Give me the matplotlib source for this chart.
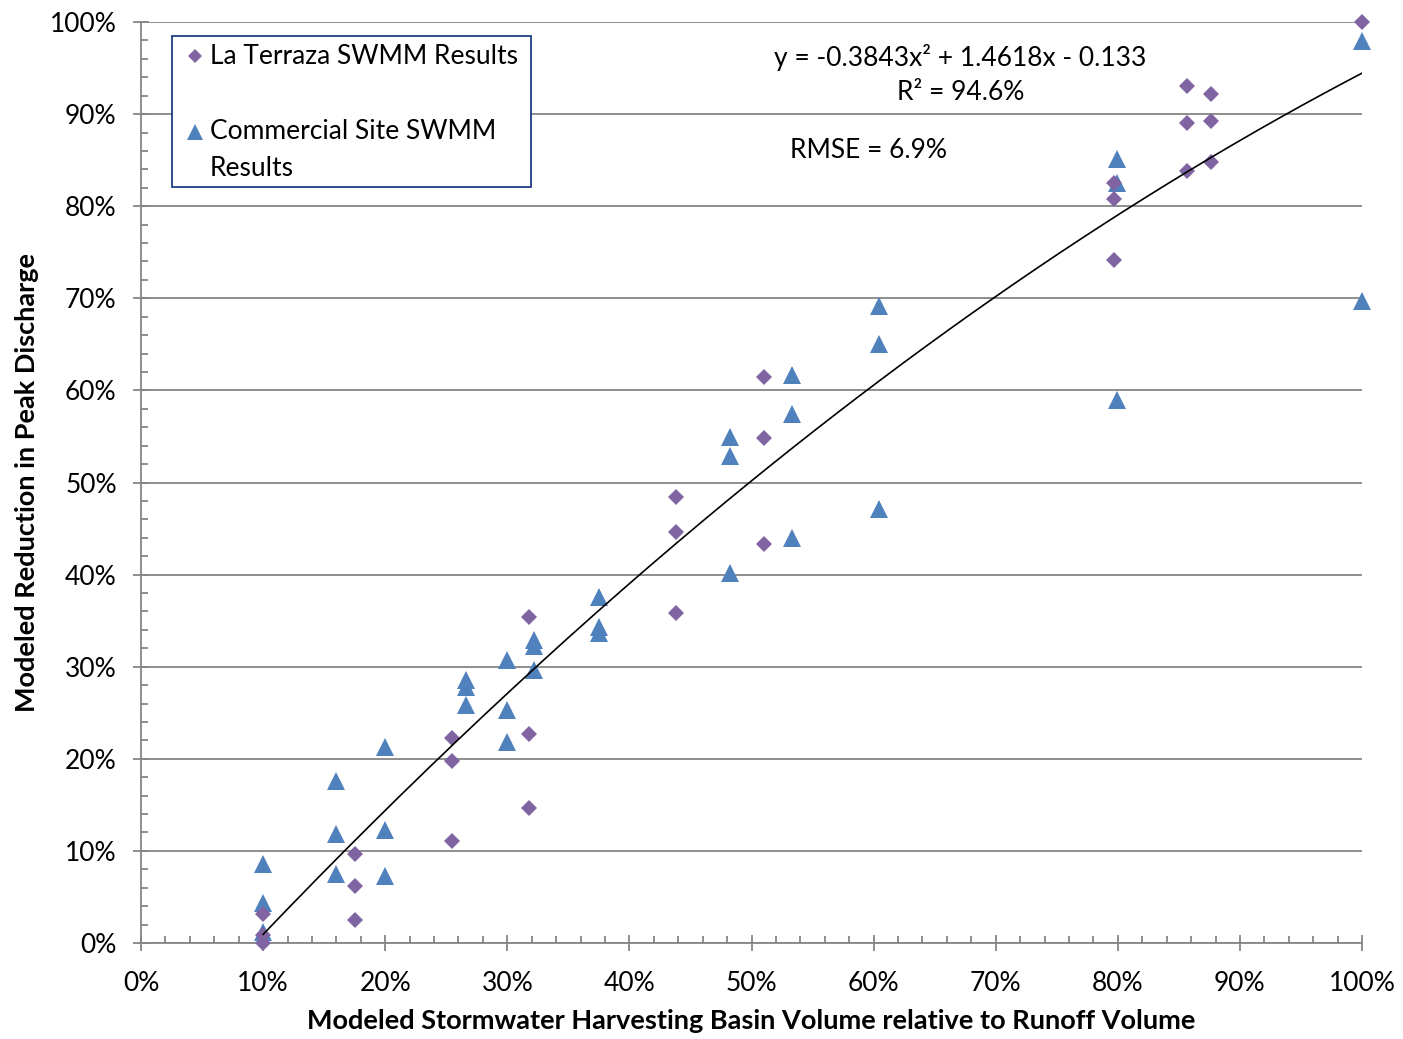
import matplotlib
matplotlib.use("Agg")
import matplotlib.pyplot as plt
import numpy as np
from matplotlib.ticker import PercentFormatter, MultipleLocator
from matplotlib.patches import Rectangle

plt.rcParams['font.family'] = ['Lato', 'DejaVu Sans']

# La Terraza SWMM results (basin volume ratio, peak reduction)
terraza_x = [0.10, 0.10, 0.10, 0.175, 0.175, 0.175, 0.255, 0.255, 0.255,
             0.318, 0.318, 0.318, 0.438, 0.438, 0.438, 0.51, 0.51, 0.51,
             0.797, 0.797, 0.797, 0.857, 0.857, 0.857, 0.876, 0.876, 0.876, 1.0]
terraza_y = [0.0, 0.009, 0.031, 0.097, 0.062, 0.025, 0.223, 0.198, 0.111,
             0.354, 0.227, 0.147, 0.484, 0.446, 0.358, 0.615, 0.548, 0.433,
             0.825, 0.808, 0.742, 0.931, 0.890, 0.838, 0.922, 0.893, 0.848, 1.0]

# Commercial site SWMM results
commercial_x = [0.10, 0.10, 0.10, 0.16, 0.16, 0.16, 0.20, 0.20, 0.20,
                0.266, 0.266, 0.266, 0.30, 0.30, 0.30, 0.322, 0.322, 0.322,
                0.375, 0.375, 0.375, 0.482, 0.482, 0.482, 0.533, 0.533, 0.533,
                0.604, 0.604, 0.604, 0.799, 0.799, 0.799, 1.0, 1.0]
commercial_y = [0.086, 0.043, 0.012, 0.176, 0.118, 0.075, 0.213, 0.123, 0.073,
                0.286, 0.278, 0.258, 0.307, 0.253, 0.218, 0.329, 0.322, 0.296,
                0.376, 0.343, 0.337, 0.549, 0.529, 0.402, 0.617, 0.574, 0.440,
                0.692, 0.650, 0.471, 0.851, 0.825, 0.590, 0.979, 0.697]

# polynomial trendline coefficients shown on the chart
trend_coef = [-0.3843, 1.4618, -0.133]
trend_range = [0.10, 1.0]

series_labels = ['La Terraza SWMM Results', 'Commercial Site SWMM', 'Results']

purple = '#8064A2'
blue = '#4F81BD'
fs = 19

fig = plt.figure(figsize=(14.03, 10.39), dpi=100)
ax = fig.add_axes([0.1005, 0.0924, 0.8703, 0.8864])

ax.plot(commercial_x, commercial_y, linestyle='none', marker='^',
        markersize=12.5, color=blue, markeredgewidth=0, zorder=3,
        clip_on=False)
ax.plot(terraza_x, terraza_y, linestyle='none', marker='D',
        markersize=8.4, color=purple, markeredgewidth=0, zorder=4,
        clip_on=False)

xt = np.linspace(trend_range[0], trend_range[1], 200)
ax.plot(xt, np.polyval(trend_coef, xt), color='black', linewidth=1.2, zorder=5)

ax.set_xlim(0, 1)
ax.set_ylim(0, 1)
ax.xaxis.set_major_locator(MultipleLocator(0.1))
ax.yaxis.set_major_locator(MultipleLocator(0.1))
ax.xaxis.set_minor_locator(MultipleLocator(0.02))
ax.yaxis.set_minor_locator(MultipleLocator(0.02))
ax.xaxis.set_major_formatter(PercentFormatter(1.0, decimals=0))
ax.yaxis.set_major_formatter(PercentFormatter(1.0, decimals=0))

axis_color = '#868686'
ax.grid(axis='y', which='major', color=axis_color, linewidth=1.3)
ax.set_axisbelow(True)
for s in ['top', 'right']:
    ax.spines[s].set_visible(False)
for s in ['left', 'bottom']:
    ax.spines[s].set_color(axis_color)
    ax.spines[s].set_linewidth(1.3)
ax.tick_params(which='major', direction='inout', length=11, width=1.3,
               color=axis_color, labelsize=fs, pad=12)
ax.tick_params(axis='x', which='major', pad=15)
ax.tick_params(which='minor', direction='in', length=5, width=1.3,
               color=axis_color)

ax.set_xlabel('Modeled Stormwater Harvesting Basin Volume relative to Runoff Volume',
              fontsize=19.5, fontweight='bold', labelpad=9)
ax.set_ylabel('Modeled Reduction in Peak Discharge',
              fontsize=19.5, fontweight='bold', labelpad=8)

ax.text(0.671, 0.962, 'y = -0.3843x² + 1.4618x - 0.133', fontsize=fs,
        ha='center', va='center')
ax.text(0.671, 0.923, 'R² = 94.6%', fontsize=fs, ha='center', va='center')
ax.text(0.596, 0.861, 'RMSE = 6.9%', fontsize=fs, ha='center', va='center')

# legend box drawn by hand to keep the Excel-like wrapped entry
ax.add_patch(Rectangle((0.0254, 0.8208), 0.294, 0.164, transform=ax.transAxes,
                       facecolor='white', edgecolor='#1F3F7F', linewidth=1.3,
                       zorder=6))
ax.plot([0.0442], [0.9631], transform=ax.transAxes, linestyle='none',
        marker='D', markersize=7.5, color=purple, markeredgewidth=0, zorder=7)
ax.plot([0.0442], [0.8806], transform=ax.transAxes, linestyle='none',
        marker='^', markersize=12, color=blue, markeredgewidth=0, zorder=7)
ax.text(0.0565, 0.9631, series_labels[0], transform=ax.transAxes,
        fontsize=fs, va='center', ha='left', zorder=7)
ax.text(0.0565, 0.8806, series_labels[1], transform=ax.transAxes,
        fontsize=fs, va='center', ha='left', zorder=7)
ax.text(0.0565, 0.8415, series_labels[2], transform=ax.transAxes,
        fontsize=fs, va='center', ha='left', zorder=7)

fig.savefig('out.png', dpi=100)
